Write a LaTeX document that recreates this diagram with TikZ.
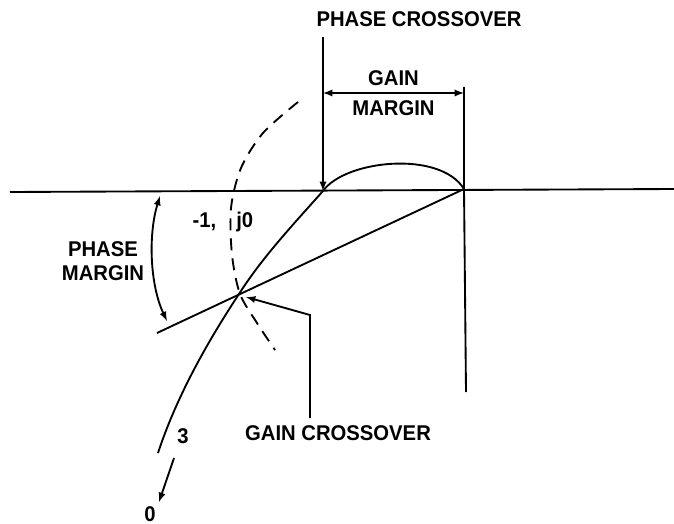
\documentclass[tikz,border=0pt]{standalone}
\usepackage{fontspec}
\setmainfont{Liberation Sans}[FakeStretch=0.95]
\usetikzlibrary{positioning,calc,arrows.meta}

\begin{document}
\begin{tikzpicture}[x=0.75pt, y=-0.75pt, line width=1.4pt,
  lbl/.style={font=\fontsize{16}{18}\selectfont\bfseries, inner sep=1pt, align=center},
  ptr/.style={->, >=latex},
  dptr/.style={<->, >=latex}]
  \useasboundingbox (0,0) rectangle (674,524);

  % Axes
  \coordinate (axL) at (10,192);
  \coordinate (axR) at (674,189);
  \coordinate (orig) at (464,189);
  \coordinate (vtop) at (464,87);
  \coordinate (vbot) at (466,392);
  \draw (axL) -- (axR);
  \draw (vtop) -- (orig) -- (vbot);

  % Polar plot of G(jw)H(jw)
  \coordinate (pc) at (323,191);
  \coordinate (gc) at (239,294);
  \coordinate (tail) at (158,453);
  \draw (orig) .. controls (440,150) and (345,160) .. (pc);
  \draw (pc) .. controls (290,228) and (262,258) .. (gc)
             .. controls (212,335) and (178,392) .. (tail);
  \node[lbl] (three) at (183,436) {3};
  \coordinate (wA) at (174,458);
  \coordinate (wB) at (159,502);
  \draw[ptr] (wA) -- (wB);
  \node[lbl] (zero) at (150,514) {0};

  % Unit circle (dashed)
  \draw[dashed, dash pattern=on 9pt off 6pt] plot[smooth] coordinates
    {(298,102) (263,133) (241,168) (231,208) (232,255) (240,294) (257,323) (275,350)};
  \node[lbl] (mone) at (223,222) {-1,\hspace{15pt}j0};

  % Phase crossover
  \coordinate (pcTop) at (323,37);
  \node[lbl] (pcText) at (419,19) {PHASE CROSSOVER};
  \draw[ptr] (pcTop) -- (pc);

  % Gain margin
  \coordinate (gmL) at (323,93);
  \coordinate (gmR) at (464,93);
  \draw[dptr] (gmL) -- (gmR)
    node[lbl, midway, above=4pt] (gmText1) {GAIN}
    node[lbl, midway, below=4pt] (gmText2) {MARGIN};

  % Phase margin
  \coordinate (pmEnd) at (157,333);
  \draw (orig) -- (pmEnd);
  \coordinate (pmTop) at (160,196);
  \coordinate (pmBot) at (167,321);
  \draw[dptr] (pmTop) .. controls (148,235) and (150,285) .. (pmBot);
  \node[lbl] (pmText) at (103,261) {PHASE\\MARGIN};

  % Gain crossover
  \node[lbl] (gcText) at (338,433) {GAIN CROSSOVER};
  \coordinate (gcFoot) at (310,418);
  \coordinate (gcKnee) at (310,315);
  \coordinate (gcTip) at (246,297);
  \draw[ptr] (gcFoot) -- (gcKnee) -- (gcTip);
\end{tikzpicture}
\end{document}
